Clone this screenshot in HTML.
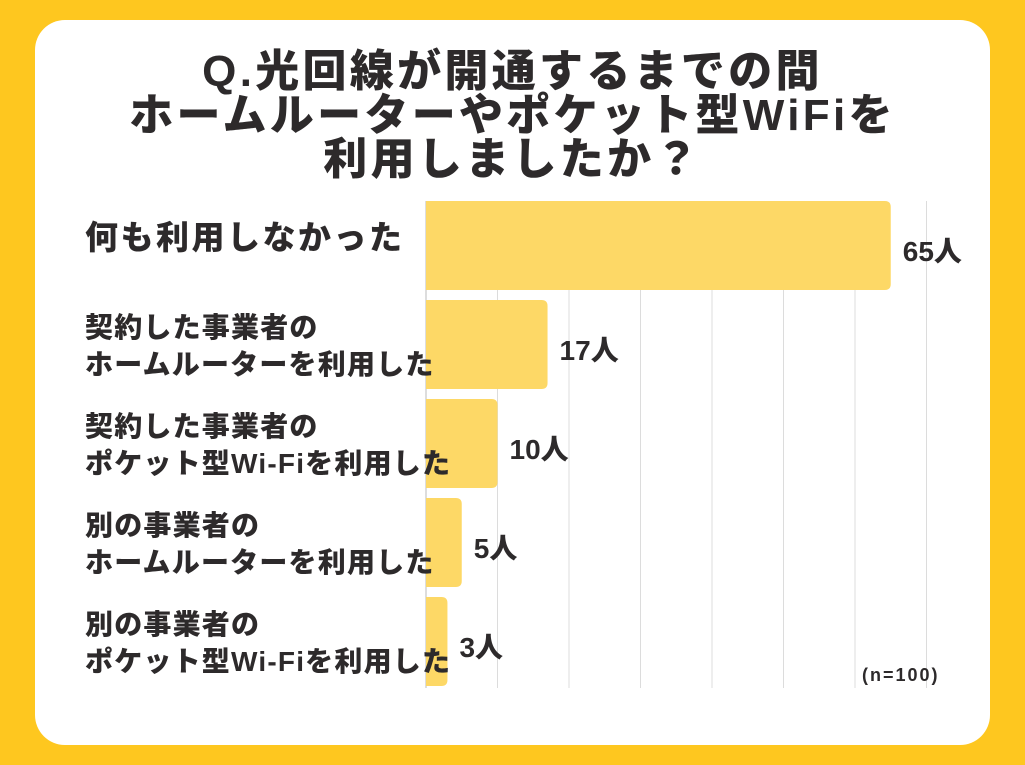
<!DOCTYPE html>
<html><head><meta charset="utf-8"><style>
body{margin:0;width:1025px;height:765px;background:#FEC71F;font-family:"Liberation Sans","Noto Sans CJK JP",sans-serif;overflow:hidden}
#card{position:absolute;left:35px;top:20px;width:955px;height:725px;background:#fff;border-radius:30px}
.t{position:absolute;left:0;width:1025px;text-align:center;font-size:44px;letter-spacing:3.3px;font-weight:900;color:#2d2a2b;line-height:44px}
.lab{position:absolute;left:85px;font-weight:900;color:#2d2a2b;font-size:28px;letter-spacing:1.2px;line-height:37px;white-space:nowrap}
.val{position:absolute;font-weight:900;color:#2d2a2b;font-size:28px}
</style></head><body>
<div id="card"></div>
<div class="t" style="top:50px">Q.光回線が開通するまでの間<br>ホームルーターやポケット型WiFiを<br>利用しましたか？</div>
<svg id="chart" width="1025" height="765" style="position:absolute;left:0;top:0"></svg>
<div id="labels"></div>
<div style="position:absolute;left:862px;top:665px;font-size:18px;letter-spacing:2px;font-weight:700;color:#2d2a2b">(n=100)</div>
<script>
const categories=["何も利用しなかった","契約した事業者の<br>ホームルーターを利用した","契約した事業者の<br>ポケット型Wi-Fiを利用した","別の事業者の<br>ホームルーターを利用した","別の事業者の<br>ポケット型Wi-Fiを利用した"];
const values=[65,17,10,5,3];
const valueLabels=["65人","17人","10人","5人","3人"];
const x0=426,scale=7.15,top0=201,step=99,bh=89;
const x=v=>x0+v*scale;
const svg=document.getElementById('chart');
const NS='http://www.w3.org/2000/svg';
for(let g=1;g<=7;g++){const l=document.createElementNS(NS,'line');
l.setAttribute('x1',x(g*10));l.setAttribute('x2',x(g*10));l.setAttribute('y1',top0);l.setAttribute('y2',688);
l.setAttribute('stroke','#dcdcdc');l.setAttribute('stroke-width','1');


svg.appendChild(l);}
const ax=document.createElementNS(NS,'line');
ax.setAttribute('x1',x0);ax.setAttribute('x2',x0);ax.setAttribute('y1',top0);ax.setAttribute('y2',688);ax.setAttribute('stroke','#bbb');


svg.appendChild(ax);
const labs=document.getElementById('labels');
values.forEach((v,i)=>{
 const y=top0+i*step;const w=x(v)-x0;
 const p=document.createElementNS(NS,'path');const r=6;
 p.setAttribute('d',`M${x0} ${y}H${x0+w-r}Q${x0+w} ${y} ${x0+w} ${y+r}V${y+bh-r}Q${x0+w} ${y+bh} ${x0+w-r} ${y+bh}H${x0}Z`);
 p.setAttribute('fill','#FDD866');
 
 
 svg.appendChild(p);
 const d=document.createElement('div');d.className='val';d.style.left=(x(v)+12)+'px';d.style.top=(y+29)+'px';d.textContent=valueLabels[i];
 
 
 labs.appendChild(d);
 const c=document.createElement('div');c.className='lab';c.innerHTML=categories[i];
 if(i===0){c.style.fontSize='33px';c.style.letterSpacing='2.5px';c.style.top=(y+18)+'px';}else c.style.top=(y+9)+'px';
 
 
 labs.appendChild(c);
});
</script>
</body></html>
